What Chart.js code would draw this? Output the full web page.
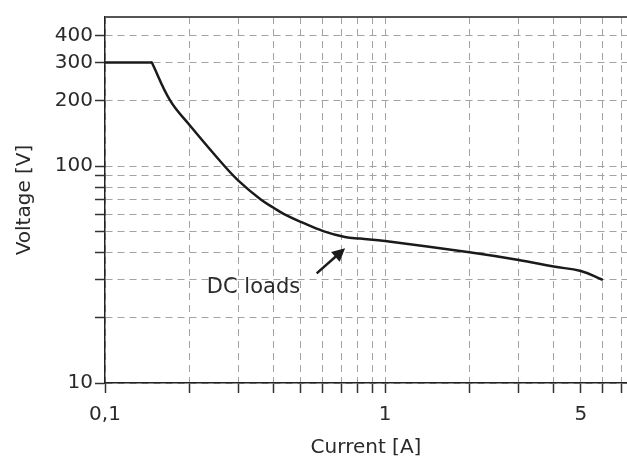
<!DOCTYPE html>
<html><head><meta charset="utf-8">
<script src="https://cdn.jsdelivr.net/npm/chart.js@4/dist/chart.umd.min.js"></script>
<style>html,body{margin:0;padding:0;background:#fff}</style>
</head><body>
<canvas id="c" width="627" height="460"></canvas>
<script>
// Flat (current-limited) part of the characteristic
const flatCurrent = [0.1, 0.147];
const flatVoltage = [300, 300];
// Decreasing part of the characteristic (DC loads)
const curveCurrent = [0.147, 0.171, 0.2, 0.267, 0.3, 0.36, 0.4, 0.436, 0.5, 0.605, 0.719, 0.815, 1, 2, 3, 4, 5, 5.95];
const curveVoltage = [300, 200, 155, 100, 85.4, 70, 64.2, 60, 55.3, 50, 47.1, 46.3, 45.1, 40, 36.9, 34.4, 32.8, 30];
// Axis ticks
const xTickValues = [0.1, 0.2, 0.3, 0.4, 0.5, 0.6, 0.7, 0.8, 0.9, 1, 2, 3, 4, 5, 6, 7];
const xLabeledValues = [0.1, 1, 5];
const xLabelTexts = ['0,1', '1', '5'];
const yTickValues = [10, 20, 30, 40, 50, 60, 70, 80, 90, 100, 200, 300, 400];
const yLabeledValues = [10, 100, 200, 300, 400];
const yLabelTexts = ['10', '100', '200', '300', '400'];
const annotationText = 'DC loads';

const FONT = '"DejaVu Sans", sans-serif';
const TXT = '#2a2a2a';

function pts(xs, ys) { return xs.map((x, i) => ({x: x, y: ys[i]})); }

const extras = {
  id: 'extras',
  afterDatasetsDraw(chart) {
    const {ctx, chartArea, scales} = chart;
    const xs = scales.x, ys = scales.y;
    ctx.save();
    // top frame line
    ctx.strokeStyle = '#555';
    ctx.lineWidth = 2;
    ctx.beginPath();
    ctx.moveTo(chartArea.left, chartArea.top);
    ctx.lineTo(chartArea.right, chartArea.top);
    ctx.stroke();
    // annotation text
    ctx.fillStyle = TXT;
    ctx.font = '21px ' + FONT;
    ctx.textAlign = 'left';
    ctx.textBaseline = 'alphabetic';
    ctx.fillText(annotationText, xs.getPixelForValue(0.231), ys.getPixelForValue(25.9));
    // arrow
    const x1 = xs.getPixelForValue(0.570), y1 = ys.getPixelForValue(32.0);
    const x2 = xs.getPixelForValue(0.720), y2 = ys.getPixelForValue(41.8);
    const ang = Math.atan2(y2 - y1, x2 - x1);
    const hl = 13, hw = 6.5;
    const bx = x2 - hl * Math.cos(ang), by = y2 - hl * Math.sin(ang);
    ctx.strokeStyle = '#1a1a1a';
    ctx.fillStyle = '#1a1a1a';
    ctx.lineWidth = 2.5;
    ctx.beginPath();
    ctx.moveTo(x1, y1);
    ctx.lineTo(bx + 2 * Math.cos(ang), by + 2 * Math.sin(ang));
    ctx.stroke();
    ctx.beginPath();
    ctx.moveTo(x2, y2);
    ctx.lineTo(bx + hw * Math.sin(ang), by - hw * Math.cos(ang));
    ctx.lineTo(bx - hw * Math.sin(ang), by + hw * Math.cos(ang));
    ctx.closePath();
    ctx.fill();
    ctx.restore();
  }
};

function labelFor(values, texts, v) {
  for (let i = 0; i < values.length; i++) {
    if (Math.abs(values[i] - v) < 1e-9 * Math.max(1, v)) return texts[i];
  }
  return '';
}

new Chart(document.getElementById('c'), {
  type: 'line',
  data: {
    datasets: [
      {data: pts(flatCurrent, flatVoltage), borderColor: '#1a1a1a', borderWidth: 2.5, pointRadius: 0, fill: false, tension: 0},
      {data: pts(curveCurrent, curveVoltage), borderColor: '#1a1a1a', borderWidth: 2.5, pointRadius: 0, fill: false, tension: 0.4, borderJoinStyle: 'round', borderCapStyle: 'round'}
    ]
  },
  options: {
    responsive: false,
    animation: false,
    devicePixelRatio: 1,
    layout: {padding: {top: 17, right: 0, left: 0, bottom: 0}},
    plugins: {legend: {display: false}, tooltip: {enabled: false}},
    scales: {
      x: {
        type: 'logarithmic',
        min: 0.1,
        max: 7.31,
        afterBuildTicks: (s) => { s.ticks = xTickValues.map(v => ({value: v})); },
        afterFit: (s) => { s.height = 77; s.paddingRight = 0; s.paddingLeft = 0; },
        ticks: {
          autoSkip: false, maxRotation: 0, padding: 10,
          color: TXT, font: {family: FONT, size: 20},
          callback: (val, i, ticks) => labelFor(xLabeledValues, xLabelTexts, ticks[i].value)
        },
        grid: {color: '#a3a3a3', lineWidth: 1, tickLength: 10, tickColor: '#333', tickWidth: 1.5},
        border: {display: true, color: '#222', width: 1.5, dash: [7, 5]},
        title: {display: true, text: 'Current [A]', color: TXT, font: {family: FONT, size: 20, lineHeight: 1.2}, padding: {top: 0, bottom: 0}}
      },
      y: {
        type: 'logarithmic',
        min: 10,
        max: 486,
        afterBuildTicks: (s) => { s.ticks = yTickValues.map(v => ({value: v})); },
        afterFit: (s) => { s.width = 105; },
        ticks: {
          autoSkip: false, padding: 2,
          color: TXT, font: {family: FONT, size: 20},
          callback: (val, i, ticks) => labelFor(yLabeledValues, yLabelTexts, ticks[i].value)
        },
        grid: {color: '#a3a3a3', lineWidth: 1, tickLength: 10, tickColor: '#333', tickWidth: 1.5},
        border: {display: true, color: '#222', width: 1.5, dash: [7, 5]},
        title: {display: true, text: 'Voltage [V]', color: TXT, font: {family: FONT, size: 20, lineHeight: 1.2}, padding: {top: 13, bottom: 0}}
      }
    }
  },
  plugins: [extras]
});
</script>
</body></html>
